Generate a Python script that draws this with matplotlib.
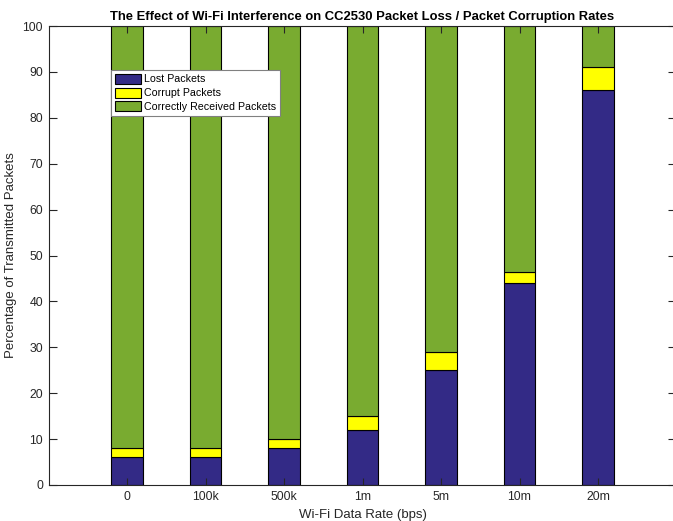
import matplotlib
matplotlib.use('Agg')
import matplotlib.pyplot as plt
import numpy as np

plt.rcParams['font.family'] = ['Liberation Sans', 'DejaVu Sans']

rates = ['0', '100k', '500k', '1m', '5m', '10m', '20m']
lost = [6, 6, 8, 12, 25, 44, 86]
corrupt = [2, 2, 2, 3, 4, 2.5, 5]
correct = [100 - l - c for l, c in zip(lost, corrupt)]

x = np.arange(1, len(rates) + 1)
width = 0.4

fig = plt.figure(figsize=(6.73, 5.21), dpi=100)
ax = fig.add_axes([0.0721, 0.0691, 0.9331, 0.8809])

ax.bar(x, lost, width, color='#332a86', edgecolor='black', linewidth=0.8, label='Lost Packets')
ax.bar(x, corrupt, width, bottom=lost, color='#ffff00', edgecolor='black', linewidth=0.8, label='Corrupt Packets')
bottom2 = [l + c for l, c in zip(lost, corrupt)]
ax.bar(x, correct, width, bottom=bottom2, color='#79ab30', edgecolor='black', linewidth=0.8,
       label='Correctly Received Packets')

ax.set_xlim(0, 8)
ax.set_ylim(0, 100)
ax.set_xticks(x)
ax.set_xticklabels(rates)
ax.set_yticks(np.arange(0, 101, 10))
ax.tick_params(direction='in', length=5, width=0.8, colors='#262626', labelsize=8.8,
               top=True, right=True, pad=4)
ax.tick_params(axis='y', which='both', right=True, length=6)
for s in ax.spines.values():
    s.set_color('#262626')
    s.set_linewidth(0.8)

ax.set_xlabel('Wi-Fi Data Rate (bps)', fontsize=9.5, color='#262626', labelpad=5)
ax.set_ylabel('Percentage of Transmitted Packets', fontsize=9.5, color='#262626', labelpad=4)
ax.set_title('The Effect of Wi-Fi Interference on CC2530 Packet Loss / Packet Corruption Rates',
             fontsize=9.4, fontweight='bold', pad=4)

leg = ax.legend(loc='upper left', bbox_to_anchor=(0.0995, 0.904), borderaxespad=0,
                fontsize=7.7, fancybox=False, framealpha=1, edgecolor='#808080',
                handlelength=2.5, handleheight=1.05, handletextpad=0.25, labelspacing=0.3,
                borderpad=0.35)
leg.get_frame().set_linewidth(0.8)

fig.savefig('out.png', dpi=100)
